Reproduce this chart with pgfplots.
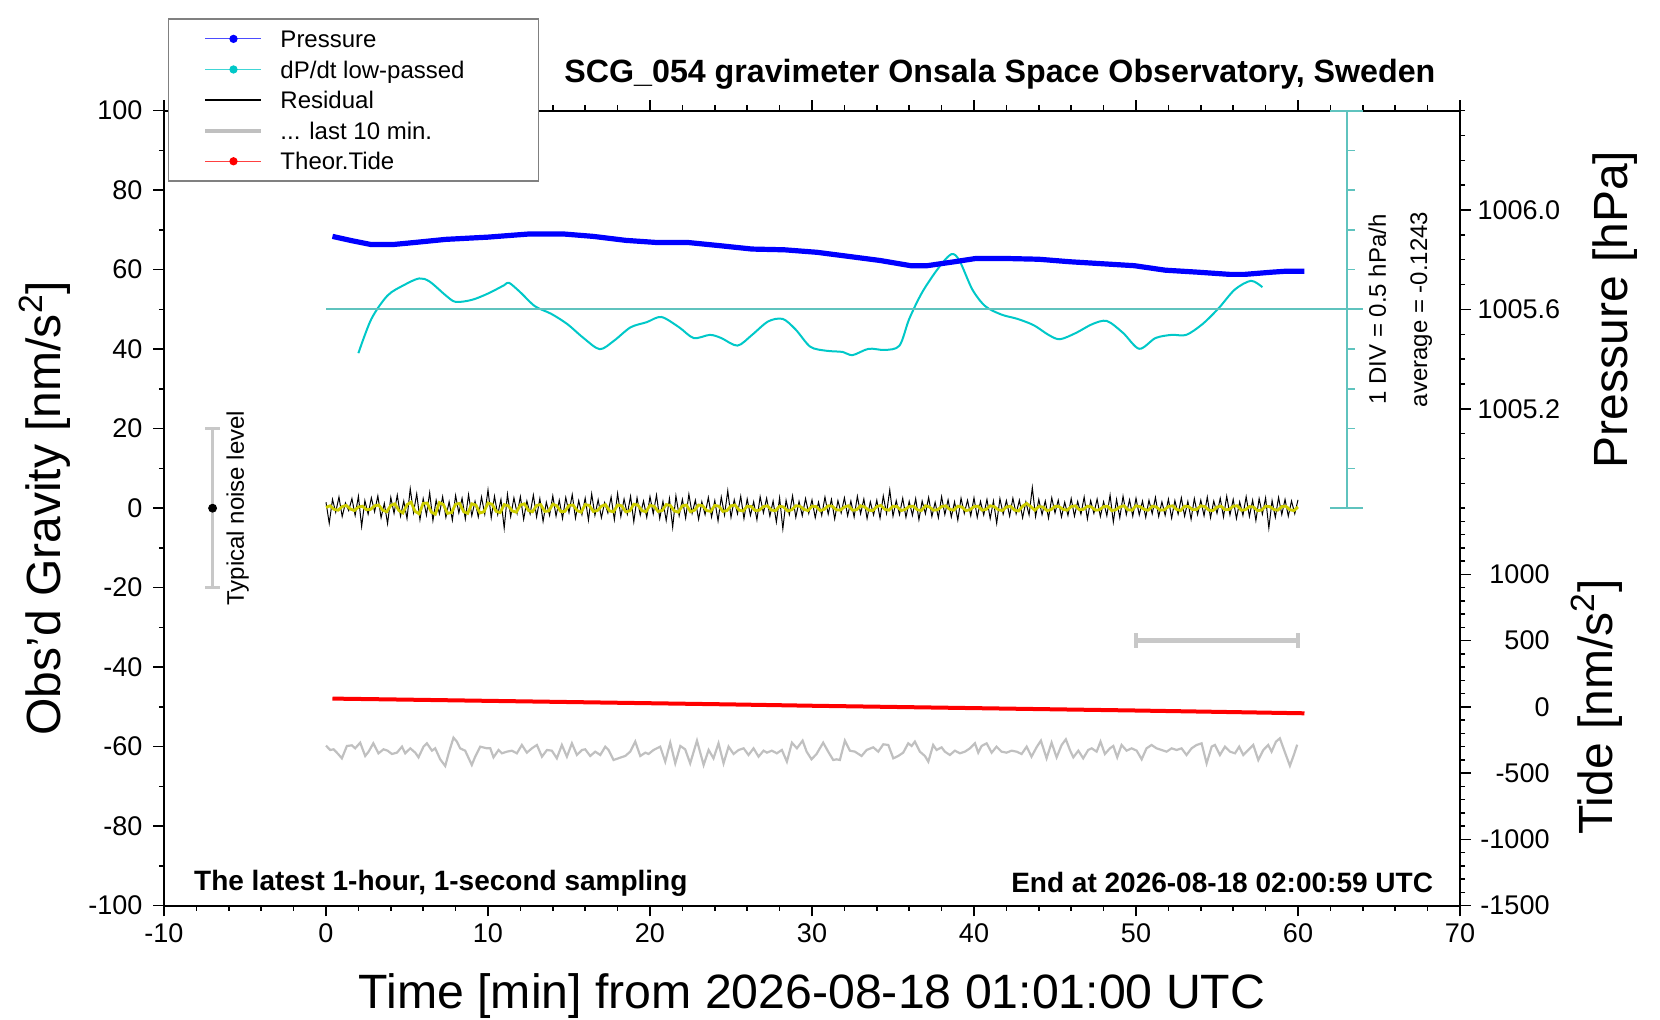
\documentclass[border=0pt]{standalone}
\usepackage{pgfplots}
\pgfplotsset{compat=1.18}
\usepackage{pgfplotstable}
\usepackage{fontspec}
\setmainfont{Liberation Sans}
\definecolor{pblue}{RGB}{0,0,255}
\definecolor{dpcyan}{RGB}{0,200,200}
\definecolor{scalecyan}{RGB}{95,195,190}
\definecolor{resyellow}{RGB}{205,205,0}
\definecolor{lastgrey}{RGB}{192,192,192}
\definecolor{noisegrey}{RGB}{200,200,200}

% residual, 1 value every 0.2 min from 0 to 60
\pgfplotstableread[row sep=\\,header=false]{
1.5\\-3.8\\2.2\\-1.0\\2.8\\-2.1\\1.3\\-0.6\\2.4\\-1.8\\
3.0\\-4.6\\1.9\\-1.5\\2.6\\-0.9\\3.1\\-2.4\\1.2\\-3.9\\
2.7\\-1.3\\3.3\\-2.0\\1.8\\-2.6\\4.9\\-1.1\\3.6\\-2.9\\
2.4\\-1.7\\3.9\\-3.1\\2.0\\-1.4\\2.9\\-2.3\\1.6\\-3.0\\
3.2\\-1.2\\2.5\\-2.7\\3.4\\-1.9\\1.7\\-2.2\\2.8\\-1.5\\
4.6\\-2.4\\3.0\\-1.6\\2.2\\-5.0\\3.5\\-2.1\\2.6\\-1.3\\
2.9\\-2.8\\1.8\\-1.4\\3.3\\-2.2\\2.4\\-3.3\\1.5\\-1.8\\
3.1\\-2.0\\2.0\\-2.6\\2.7\\-1.1\\3.4\\-2.5\\1.9\\-1.6\\
2.5\\-3.0\\3.6\\-1.8\\2.1\\-2.4\\1.4\\-1.2\\2.8\\-2.9\\
3.7\\-2.1\\2.3\\-1.5\\3.0\\-3.4\\2.6\\-1.7\\1.8\\-2.3\\
2.9\\-1.4\\3.3\\-2.6\\1.7\\-3.1\\2.4\\-4.8\\3.1\\-1.9\\
2.2\\-2.5\\3.5\\-1.3\\2.0\\-2.8\\1.6\\-1.6\\2.7\\-2.2\\
1.9\\-3.2\\2.8\\-1.7\\4.4\\-2.3\\2.1\\-1.4\\3.0\\-2.6\\
2.3\\-1.8\\1.6\\-2.9\\2.9\\-1.2\\2.5\\-2.0\\1.8\\-3.5\\
2.6\\-5.2\\2.0\\-1.6\\3.1\\-2.3\\1.7\\-1.9\\2.4\\-1.3\\
2.1\\-2.4\\1.5\\-1.8\\2.8\\-1.5\\2.2\\-2.7\\1.9\\-1.2\\
2.6\\-1.9\\1.8\\-2.2\\3.0\\-1.4\\2.3\\-2.6\\1.6\\-1.7\\
2.0\\-2.5\\3.1\\-1.3\\4.6\\-2.0\\1.9\\-1.6\\2.5\\-2.3\\
1.7\\-1.8\\2.4\\-2.9\\1.8\\-1.4\\2.7\\-2.1\\1.5\\-2.4\\
2.9\\-1.6\\2.1\\-2.2\\1.6\\-3.0\\2.5\\-1.3\\2.0\\-1.9\\
2.6\\-2.3\\1.7\\-1.7\\2.2\\-2.6\\1.8\\-3.8\\2.4\\-1.5\\
1.9\\-2.0\\2.5\\-1.4\\2.0\\-2.4\\1.6\\-1.7\\5.2\\-2.1\\
2.2\\-1.6\\1.8\\-2.5\\2.6\\-1.2\\2.0\\-2.2\\1.5\\-1.8\\
2.4\\-2.0\\1.7\\-1.5\\2.8\\-2.7\\1.9\\-1.3\\2.3\\-2.1\\
1.6\\-1.9\\3.3\\-3.5\\2.2\\-2.4\\3.0\\-1.6\\2.1\\-2.0\\
2.5\\-1.7\\1.8\\-2.3\\2.0\\-1.4\\2.7\\-2.1\\1.6\\-1.8\\
2.3\\-2.5\\1.9\\-1.5\\2.6\\-2.0\\1.7\\-2.8\\2.4\\-1.6\\
2.0\\-1.9\\2.8\\-2.4\\1.8\\-1.3\\2.5\\-2.2\\3.0\\-1.7\\
2.2\\-2.6\\1.6\\-1.8\\2.9\\-2.1\\2.0\\-3.1\\2.4\\-1.5\\
2.6\\-5.0\\1.9\\-2.3\\2.7\\-1.6\\2.2\\-2.0\\1.8\\-1.4\\
2.1\\
}\residtab

% smoothed residual, 1 value every 0.25 min from 0 to 60
\pgfplotstableread[row sep=\\,header=false]{
0.2\\0.6\\-0.3\\-0.5\\0.4\\0.7\\-0.2\\-0.6\\0.3\\0.5\\-0.4\\-0.3\\
0.6\\0.8\\-0.5\\-0.9\\0.7\\1.1\\-0.6\\-1.2\\0.9\\1.5\\-0.8\\-1.4\\
1.2\\1.3\\-1.0\\-1.5\\1.4\\0.9\\-1.3\\-1.1\\1.0\\1.2\\-0.9\\-1.3\\
1.1\\0.8\\-1.2\\-0.9\\1.3\\1.0\\-0.8\\-1.1\\0.9\\0.6\\-0.7\\-1.0\\
0.8\\1.1\\-0.6\\-0.9\\0.7\\0.9\\-0.8\\-0.7\\1.0\\0.6\\-0.9\\-0.8\\
0.7\\0.8\\-0.6\\-1.0\\0.9\\0.7\\-0.8\\-0.6\\0.5\\0.9\\-0.7\\-0.9\\
0.8\\0.6\\-0.9\\-0.7\\1.0\\0.8\\-0.6\\-0.9\\0.7\\0.5\\-0.8\\-0.6\\
0.9\\0.7\\-0.7\\-1.0\\0.6\\0.8\\-0.9\\-0.5\\0.8\\0.6\\-0.6\\-0.8\\
0.7\\0.5\\-0.8\\-0.6\\0.6\\0.8\\-0.5\\-0.7\\0.5\\0.4\\-0.6\\-0.5\\
0.4\\0.6\\-0.5\\-0.6\\0.5\\0.3\\-0.7\\-0.4\\0.6\\0.5\\-0.3\\-0.6\\
0.5\\0.4\\-0.6\\-0.3\\0.6\\0.5\\-0.4\\-0.5\\0.3\\0.6\\-0.5\\-0.4\\
0.6\\0.3\\-0.5\\-0.6\\0.4\\0.7\\-0.3\\-0.5\\0.5\\0.4\\-0.6\\-0.3\\
0.4\\0.5\\-0.4\\-0.6\\0.6\\0.3\\-0.5\\-0.4\\0.4\\0.6\\-0.3\\-0.5\\
0.5\\0.3\\-0.6\\-0.4\\0.4\\0.5\\-0.5\\-0.3\\0.6\\0.4\\-0.4\\-0.6\\
0.3\\0.5\\-0.5\\-0.7\\0.5\\1.2\\0.4\\-0.5\\0.4\\0.3\\-0.6\\-0.4\\
0.5\\0.4\\-0.3\\-0.5\\0.4\\0.6\\-0.4\\-0.3\\0.5\\0.3\\-0.5\\-0.4\\
0.4\\0.5\\-0.6\\-0.4\\0.3\\0.6\\-0.4\\-0.5\\0.6\\0.4\\-0.3\\-0.5\\
0.5\\0.3\\-0.5\\-0.4\\0.4\\0.6\\-0.3\\-0.6\\0.5\\0.4\\-0.4\\-0.3\\
0.6\\0.4\\-0.5\\-0.6\\0.3\\0.5\\-0.4\\-0.3\\0.5\\0.6\\-0.5\\-0.4\\
0.4\\0.3\\-0.6\\-0.5\\0.5\\0.4\\-0.3\\-0.5\\0.4\\0.5\\-0.4\\-0.6\\
0.3\\
}\smoothtab

\begin{document}
\begin{tikzpicture}
\pgfplotsset{
  commonaxis/.style={scale only axis, width=648pt, height=397.5pt,
    at={(82pt,57.15pt)}, anchor=south west, xmin=-10, xmax=70,
    tick align=outside, major tick length=5.3pt, minor tick length=2.6pt,
    every tick/.style={black, line width=0.75pt},
    axis line style={line width=1.1pt},
    tick label style={font=\fontsize{13.5}{16}\selectfont},
    /pgf/number format/assume math mode=true,
    /pgf/number format/1000 sep={},
    scaled y ticks=false},
}
% ---------------- main axis: gravity ----------------
\begin{axis}[commonaxis, ymin=-100, ymax=100, clip=false,
  xtick={-10,0,...,70}, minor x tick num=4,
  ytick={-100,-80,...,100}, minor y tick num=1,
  xtick pos=both, xticklabel pos=lower, ytick pos=left,
  yticklabel style={xshift=-2pt},
  xlabel={Time [min] from 2026-08-18 01:01:00 UTC},
  ylabel={Obs’d Gravity [nm/s\textsuperscript{2}]},
  every axis x label/.style={at={(axis description cs:0.5,-0.1136)}, anchor=center, font=\fontsize{24.1}{28}\selectfont},
  every axis y label/.style={at={(axis description cs:-0.0918,0.5)}, anchor=center, rotate=90, font=\fontsize{24}{28}\selectfont},
]
% grey: last 10 min expanded
\addplot[lastgrey, line width=1.1pt] coordinates {
(0.00,-59.74)(0.26,-60.83)(0.47,-60.66)(0.71,-61.67)(0.98,-62.93)(1.29,-59.82)(1.60,-59.66)(1.80,-60.41)
(2.11,-58.99)(2.42,-62.34)(2.63,-61.25)(2.92,-59.15)(3.24,-61.67)(3.55,-60.66)(3.80,-61.00)(4.07,-61.84)
(4.38,-61.50)(4.69,-59.99)(4.89,-61.67)(5.20,-60.41)(5.51,-61.50)(5.71,-62.68)(6.02,-59.99)(6.23,-59.15)
(6.54,-61.00)(6.74,-60.41)(7.05,-63.18)(7.36,-64.86)(7.57,-61.67)(7.87,-57.73)(8.08,-58.73)(8.28,-60.41)
(8.59,-61.00)(9.00,-64.60)(9.21,-62.51)(9.52,-59.99)(9.93,-60.41)(10.14,-60.41)(10.34,-62.68)(10.65,-60.83)
(10.86,-61.67)(11.17,-61.25)(11.47,-61.00)(11.78,-61.67)(12.09,-59.57)(12.40,-61.50)(12.71,-60.41)(13.02,-59.57)
(13.33,-62.51)(13.64,-60.83)(13.94,-61.00)(14.25,-62.93)(14.56,-59.57)(14.87,-62.51)(15.18,-59.15)(15.49,-62.09)
(15.80,-60.83)(16.00,-60.66)(16.31,-62.34)(16.62,-61.25)(16.93,-62.09)(17.24,-59.99)(17.44,-60.83)(17.75,-63.35)
(18.16,-62.76)(18.47,-62.34)(18.78,-61.25)(19.09,-58.73)(19.40,-62.34)(19.71,-61.50)(19.91,-61.84)(20.22,-60.83)
(20.63,-59.99)(20.94,-63.77)(21.25,-58.99)(21.56,-64.19)(21.87,-59.82)(22.17,-60.66)(22.48,-64.19)(22.90,-58.48)
(23.31,-64.60)(23.62,-60.83)(23.92,-62.93)(24.23,-59.15)(24.54,-64.19)(24.85,-59.99)(25.16,-61.84)(25.47,-60.83)
(25.78,-60.41)(26.08,-62.09)(26.39,-60.41)(26.70,-62.51)(27.01,-61.00)(27.22,-61.50)(27.52,-61.00)(27.83,-61.67)
(28.14,-60.83)(28.45,-63.77)(28.76,-58.99)(29.07,-60.41)(29.42,-58.48)(29.67,-61.25)(29.97,-63.18)(30.28,-61.84)
(30.69,-58.99)(31.00,-61.25)(31.31,-63.35)(31.52,-63.18)(31.72,-63.35)(32.03,-58.48)(32.34,-61.00)(32.65,-61.25)
(33.06,-62.34)(33.37,-60.83)(33.78,-60.16)(34.09,-61.25)(34.40,-59.40)(34.71,-59.57)(35.02,-62.93)(35.32,-62.34)
(35.63,-61.50)(35.94,-59.15)(36.15,-59.82)(36.35,-58.73)(36.66,-61.25)(36.97,-62.34)(37.18,-63.77)(37.48,-59.57)
(37.69,-60.83)(38.00,-60.16)(38.20,-61.25)(38.51,-62.09)(38.82,-61.00)(39.13,-61.67)(39.44,-61.25)(39.75,-60.41)
(40.06,-59.15)(40.26,-61.50)(40.47,-59.82)(40.78,-59.15)(41.09,-61.50)(41.39,-59.99)(41.70,-61.25)(42.01,-61.50)
(42.32,-61.00)(42.63,-61.25)(42.94,-61.84)(43.25,-59.99)(43.55,-62.51)(43.86,-60.16)(44.13,-58.48)(44.48,-62.93)
(44.79,-58.99)(45.10,-62.68)(45.41,-59.57)(45.67,-58.15)(45.92,-60.83)(46.13,-62.68)(46.44,-61.00)(46.74,-62.93)
(47.05,-60.83)(47.26,-60.41)(47.57,-61.25)(47.81,-58.73)(48.08,-61.84)(48.39,-60.41)(48.60,-59.82)(48.84,-62.68)
(49.11,-59.57)(49.42,-61.00)(49.73,-60.41)(50.04,-61.00)(50.35,-63.18)(50.65,-60.41)(50.96,-59.57)(51.27,-60.41)
(51.58,-60.83)(51.89,-61.25)(52.20,-60.41)(52.51,-60.83)(52.81,-60.41)(53.12,-62.09)(53.43,-60.41)(53.74,-59.57)
(54.05,-59.15)(54.36,-64.19)(54.67,-59.99)(54.87,-59.57)(55.18,-62.09)(55.49,-59.99)(55.80,-61.25)(56.11,-61.67)
(56.37,-59.99)(56.62,-62.09)(56.93,-60.83)(57.24,-59.57)(57.55,-63.35)(57.86,-60.83)(58.16,-59.57)(58.37,-61.25)
(58.64,-58.73)(58.88,-57.90)(59.20,-61.50)(59.50,-64.80)(59.75,-62.00)(59.95,-59.50)
};
% residual
\addplot[black, line width=0.5pt] table[x expr=\coordindex*0.2, y index=0] {\residtab};
% smoothed residual
\addplot[resyellow, line width=1.4pt] table[x expr=\coordindex*0.25, y index=0] {\smoothtab};
% dP/dt low-passed
\addplot[dpcyan, line width=1pt, smooth, tension=0.5] coordinates {
(2.0,39.0)(2.8,47.6)(3.8,53.5)(4.8,56.1)(5.75,57.8)(6.4,57.0)(7.4,53.5)(8.0,51.9)(9.0,52.4)(10.0,54.0)
(11.0,56.1)(11.3,56.7)(12.0,54.3)(12.9,50.8)(13.9,48.9)(14.9,46.3)(15.9,42.8)(16.9,40.0)(17.8,42.2)(18.8,45.5)
(19.8,46.8)(20.7,48.1)(21.8,45.5)(22.7,42.8)(23.7,43.6)(24.4,42.8)(25.4,40.9)(26.3,43.6)(27.3,47.0)(28.2,47.6)
(29.0,44.9)(29.9,40.6)(30.9,39.6)(31.9,39.3)(32.5,38.5)(33.5,40.1)(34.5,39.8)(35.4,40.9)(36.0,47.6)(36.8,54.3)
(37.8,60.4)(38.6,63.9)(39.1,62.3)(39.9,55.0)(40.7,50.8)(41.7,48.7)(42.7,47.6)(43.7,46.0)(44.6,43.6)(45.3,42.5)
(46.3,44.1)(47.3,46.3)(48.2,47.1)(49.2,44.1)(50.2,40.1)(51.2,42.8)(52.2,43.6)(53.1,43.6)(54.1,46.3)(55.1,50.3)
(56.1,55.0)(57.1,57.2)(57.8,55.6)
};
% dP/dt scale (1 DIV = 0.5 hPa/h) and average line
\addplot[scalecyan, line width=1pt] coordinates {(0,50)(64,50)};
\addplot[scalecyan, line width=1pt] coordinates {(63,0)(63,100)};
\addplot[scalecyan, line width=1pt] coordinates {(62,0)(64,0)};
\addplot[scalecyan, line width=1pt] coordinates {(62,100)(64,100)};
\addplot[scalecyan, line width=0.8pt, unbounded coords=jump] coordinates {
(63,10)(63.5,10)(63,nan)(63,20)(63.5,20)(63,nan)(63,30)(63.5,30)(63,nan)(63,40)(63.5,40)(63,nan)
(63,60)(63.5,60)(63,nan)(63,70)(63.5,70)(63,nan)(63,80)(63.5,80)(63,nan)(63,90)(63.5,90)};
% typical noise level bar
\addplot[noisegrey, line width=1.2pt] coordinates {(-7,-20)(-7,20)};
\addplot[noisegrey, line width=1.2pt] coordinates {(-7.45,20)(-6.55,20)};
\addplot[noisegrey, line width=1.2pt] coordinates {(-7.45,-20)(-6.55,-20)};
\addplot[only marks, mark=*, mark size=2pt, black] coordinates {(-7,0)};
% last-10-min window bar
\addplot[noisegrey, line width=2.2pt] coordinates {(50,-33.3)(60,-33.3)};
\addplot[noisegrey, line width=2.2pt] coordinates {(50,-35.1)(50,-31.5)};
\addplot[noisegrey, line width=2.2pt] coordinates {(60,-35.1)(60,-31.5)};
% texts
\node[rotate=90, font=\fontsize{12}{14}\selectfont] at (axis cs:-5.45,0) {Typical noise level};
\node[rotate=90, font=\fontsize{12}{14}\selectfont] at (axis cs:64.9,50) {1 DIV = 0.5 hPa/h};
\node[rotate=90, font=\fontsize{12}{14}\selectfont] at (axis cs:67.6,50) {average = -0.1243};
\node[font=\bfseries\fontsize{16.1}{19}\selectfont] at (rel axis cs:0.645,1.046) {SCG\_054 gravimeter Onsala Space Observatory, Sweden};
\node[anchor=west, inner sep=0pt, font=\bfseries\fontsize{14}{16}\selectfont] at (rel axis cs:0.023,0.0286) {The latest 1-hour, 1-second sampling};
\node[anchor=east, inner sep=0pt, font=\bfseries\fontsize{14}{16}\selectfont] at (rel axis cs:0.9795,0.0286) {End at 2026-08-18 02:00:59 UTC};
\end{axis}
% ---------------- pressure axis ----------------
\begin{axis}[commonaxis, ymin=1003.2, ymax=1006.4, hide x axis, axis y line*=right,
  ytick={1005.2,1005.6,1006.0},
  minor ytick={1004.8,1004.9,1005.0,1005.1,1005.3,1005.4,1005.5,1005.7,1005.8,1005.9,1006.1,1006.2,1006.3,1006.4},
  yticklabel style={/pgf/number format/.cd, fixed, fixed zerofill, precision=1},
  ylabel={Pressure [hPa]},
  every axis y label/.style={at={(axis description cs:1.1194,0.75)}, anchor=center, rotate=90, font=\fontsize{24}{28}\selectfont},
]
\addplot[pblue, line width=2.6pt] coordinates {
(0.4,1005.894)(1.5,1005.878)(2.8,1005.861)(4.1,1005.861)(5.4,1005.869)(7.4,1005.882)(10.0,1005.891)(12.6,1005.904)
(14.6,1005.904)(16.5,1005.894)(18.5,1005.878)(20.5,1005.869)(22.4,1005.869)(24.4,1005.856)(26.3,1005.843)(28.3,1005.840)
(30.3,1005.830)(32.2,1005.814)(34.2,1005.797)(36.1,1005.776)(37.1,1005.776)(38.8,1005.792)(40.1,1005.805)(42.0,1005.805)
(44.0,1005.802)(45.9,1005.792)(47.9,1005.784)(49.9,1005.776)(51.8,1005.758)(53.8,1005.750)(55.8,1005.741)(56.7,1005.741)
(58.4,1005.750)(59.3,1005.754)(60.4,1005.754)
};
\end{axis}
% ---------------- tide axis ----------------
\begin{axis}[commonaxis, ymin=-1500, ymax=4500, hide x axis, axis y line*=right,
  ytick={-1500,-1000,-500,0,500,1000},
  minor ytick={-1400,-1300,-1200,-1100,-900,-800,-700,-600,-400,-300,-200,-100,100,200,300,400,600,700,800,900,1100,1200,1300,1400,1500},
  yticklabel style={anchor=east, xshift=43pt},
  ylabel={Tide [nm/s\textsuperscript{2}]},
  every axis y label/.style={at={(axis description cs:1.1058,0.25)}, anchor=center, rotate=90, font=\fontsize{24}{28}\selectfont},
  legend image code/.code={\draw[mark repeat=2,mark phase=2,#1] plot coordinates {(0pt,0pt) (14pt,0pt) (28pt,0pt)};},
  legend style={at={(axis description cs:0.003,1.116)}, anchor=north west, draw=gray, line width=0.6pt, fill=white,
    inner xsep=17.5pt, inner ysep=4.2pt, row sep=3.9pt,
    /tikz/every odd column/.append style={column sep=8.5pt},
    font=\fontsize{12}{14}\selectfont, cells={anchor=west},
    nodes={inner sep=0pt, text height=10pt, text depth=1.4pt}},
]
\addplot[red, line width=2pt, forget plot] coordinates {
(0.4,63)(5,55)(10,46)(15,37)(20,28)(25,19)(30,9)(35,0)(40,-9)(45,-18)(50,-27)(55,-37)(60.4,-48)
};
\addlegendimage{blue!70, line width=0.5pt, mark=*, mark size=1.8pt, mark options={fill=blue, draw=blue}}
\addlegendimage{dpcyan!75, line width=0.5pt, mark=*, mark size=1.8pt, mark options={fill=dpcyan, draw=dpcyan}}
\addlegendimage{black, line width=1.2pt}
\addlegendimage{lastgrey, line width=2pt}
\addlegendimage{red!75, line width=0.5pt, mark=*, mark size=1.8pt, mark options={fill=red, draw=red}}
\addlegendentry{Pressure}
\addlegendentry{dP/dt low-passed\hspace*{19.5pt}}
\addlegendentry{Residual}
\addlegendentry{.{}.{}. last 10 min.}
\addlegendentry{Theor.Tide}
\end{axis}
\pgfresetboundingbox
\path[use as bounding box] (0,0) rectangle (830pt,510pt);
\end{tikzpicture}
\end{document}
